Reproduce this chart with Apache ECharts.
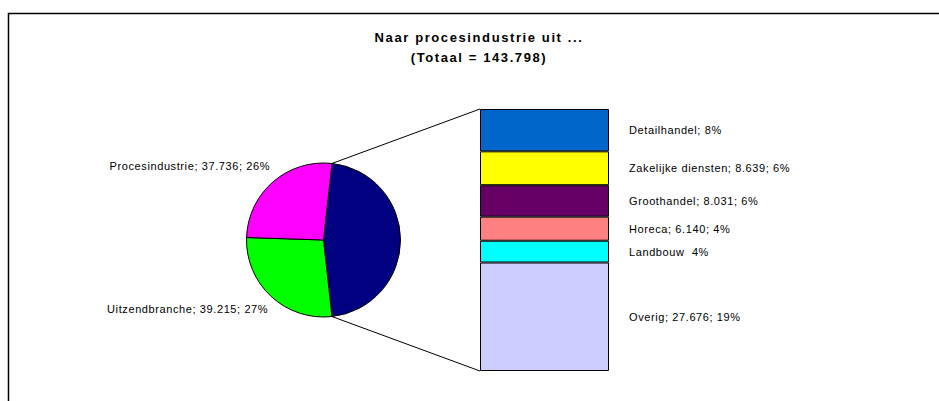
<!DOCTYPE html>
<html>
<head>
<meta charset="utf-8">
<title>Naar procesindustrie uit ...</title>
<script src="https://cdn.jsdelivr.net/npm/echarts@6/dist/echarts.min.js"></script>
<style>
  html, body { margin: 0; padding: 0; background: #fff; }
  #chart { width: 939px; height: 401px; letter-spacing: 0.6px; }
  /* the original text is set rather wide */
  #chart text[style*="bold"] { letter-spacing: 1.6px; }
</style>
</head>
<body>
<div id="chart"></div>
<script>
// pie slices (the rest is split out in the bar)
const pieNames = ['Uitzendbranche', 'Procesindustrie'];
const pieValues = [39215, 37736];
const pieColors = ['#00FF00', '#FF00FF'];
const restColor = '#000080';

// bar segments, top to bottom
const barNames = ['Detailhandel', 'Zakelijke diensten', 'Groothandel', 'Horeca', 'Landbouw', 'Overig'];
const barValues = [10800, 8639, 8031, 6140, 5561, 27676];
const barColors = ['#0066CC', '#FFFF00', '#660066', '#FF8080', '#00FFFF', '#CCCCFF'];
// label text as in the original (some labels lack the value)
const barLabelFormats = ['{n}; {p}', '{n}; {v}; {p}', '{n}; {v}; {p}', '{n}; {v}; {p}', '{n}  {p}', '{n}; {v}; {p}'];

const FONT = '"Liberation Sans", Arial, sans-serif';
const PIE_CENTER = [323.5, 240];
const PIE_R = 77;
const GRID = {left: 480, top: 109, width: 129, height: 262};

const restTotal = barValues.reduce((a, b) => a + b, 0);
const total = restTotal + pieValues.reduce((a, b) => a + b, 0);

function fmt(v) {
  return String(v).replace(/\B(?=(\d{3})+(?!\d))/g, '.');
}
function pct(v) {
  return Math.round(v / total * 100) + '%';
}

// rest slice centred on 3 o'clock, going clockwise
const startAngle = restTotal / total * 180;
const midAngles = [];
let a = startAngle - restTotal / total * 360;
pieValues.forEach(v => {
  const span = v / total * 360;
  midAngles.push(a - span / 2);
  a -= span;
});

const chart = echarts.init(document.getElementById('chart'), null, {renderer: 'svg'});

const pieData = [{
  name: 'Overige', value: restTotal,
  itemStyle: {color: restColor}, label: {show: false}
}].concat(pieNames.map((n, i) => ({
  name: n, value: pieValues[i], itemStyle: {color: pieColors[i]}
})));

const barSeries = [];
for (let i = barNames.length - 1; i >= 0; i--) {
  barSeries.push({
    name: barNames[i],
    type: 'bar',
    stack: 'rest',
    barWidth: '100%',
    data: [barValues[i]],
    itemStyle: {color: barColors[i], borderColor: '#000', borderWidth: 1},
    label: {
      show: true,
      position: 'right',
      distance: 20,
      color: '#000',
      fontSize: 11,
      fontFamily: FONT,
      formatter: barLabelFormats[i]
        .replace('{n}', barNames[i])
        .replace('{v}', fmt(barValues[i]))
        .replace('{p}', pct(barValues[i]))
    }
  });
}

const option = {
  animation: false,
  backgroundColor: '#fff',
  title: {
    text: 'Naar procesindustrie uit ...\n(Totaal = ' + fmt(total) + ')',
    left: 479,
    top: 27,
    padding: 0,
    textAlign: 'center',
    textStyle: {fontSize: 13, fontWeight: 'bold', fontFamily: FONT, color: '#000', lineHeight: 20}
  },
  grid: GRID,
  xAxis: {type: 'category', data: ['rest'], show: false},
  yAxis: {type: 'value', min: 0, max: restTotal, show: false},
  series: [{
    type: 'pie',
    center: PIE_CENTER,
    radius: PIE_R,
    startAngle: startAngle,
    clockwise: true,
    avoidLabelOverlap: false,
    itemStyle: {borderColor: '#000', borderWidth: 1},
    label: {
      show: true,
      position: 'outside',
      color: '#000',
      fontSize: 11,
      fontFamily: FONT,
      formatter: p => p.name + '; ' + fmt(p.value) + '; ' + pct(p.value)
    },
    labelLine: {show: false},
    labelLayout: p => {
      const m = midAngles[p.dataIndex - 1];
      if (m === undefined) return {};
      const rad = m * Math.PI / 180;
      const ex = PIE_CENTER[0] + PIE_R * Math.cos(rad);
      const ey = PIE_CENTER[1] - PIE_R * Math.sin(rad);
      const up = Math.sin(rad) > 0;
      return {
        x: ex - 3,
        y: up ? ey - 10 : ey + 7,
        align: 'right',
        verticalAlign: up ? 'bottom' : 'top'
      };
    },
    emphasis: {disabled: true},
    data: pieData
  }].concat(barSeries)
};
chart.setOption(option);

// frame and connector lines from the rest slice to the bar
const s = startAngle * Math.PI / 180;
const pTop = [PIE_CENTER[0] + PIE_R * Math.cos(s), PIE_CENTER[1] - PIE_R * Math.sin(s)];
const pBot = [PIE_CENTER[0] + PIE_R * Math.cos(s), PIE_CENTER[1] + PIE_R * Math.sin(s)];
const yTop = chart.convertToPixel({yAxisIndex: 0}, restTotal);
const yBot = chart.convertToPixel({yAxisIndex: 0}, 0);
chart.setOption({
  graphic: [
    {type: 'rect', shape: {x: 8.5, y: 13.5, width: 1000, height: 500},
     style: {fill: null, stroke: '#000', lineWidth: 1.5}, silent: true},
    {type: 'line', shape: {x1: pTop[0], y1: pTop[1], x2: GRID.left, y2: yTop},
     style: {stroke: '#000', lineWidth: 1}, silent: true},
    {type: 'line', shape: {x1: pBot[0], y1: pBot[1], x2: GRID.left, y2: yBot},
     style: {stroke: '#000', lineWidth: 1}, silent: true}
  ]
});
</script>
</body>
</html>
